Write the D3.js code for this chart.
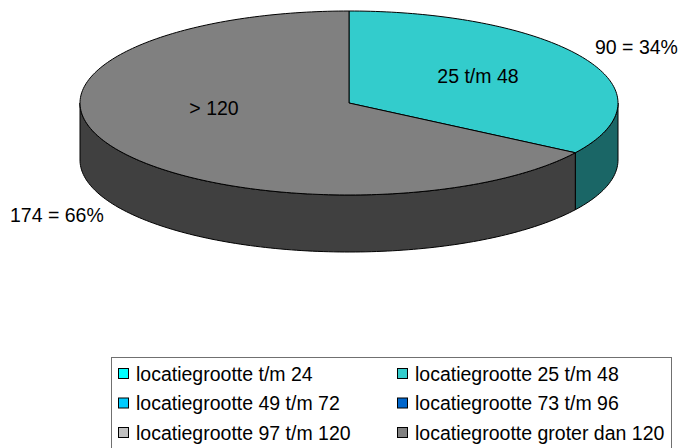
<!DOCTYPE html>
<html>
<head>
<meta charset="utf-8">
<script src="https://cdn.jsdelivr.net/npm/d3@7"></script>
<style>
  body { margin: 0; background: #fff; }
  text { font-family: "Liberation Sans", Arial, sans-serif; }
</style>
</head>
<body>
<svg id="chart" width="680" height="448"></svg>
<script>
// categories shown in the legend
const categories = [
  "locatiegrootte t/m 24",
  "locatiegrootte 25 t/m 48",
  "locatiegrootte 49 t/m 72",
  "locatiegrootte 73 t/m 96",
  "locatiegrootte 97 t/m 120",
  "locatiegrootte groter dan 120"
];
const legendColors = ["#00ffff", "#33cccc", "#00ccff", "#0066cc", "#c0c0c0", "#808080"];
const sideColors = ["#008080", "#1a6666", "#006680", "#003366", "#606060", "#404040"];

// only two slices have values
const sliceNames = ["25 t/m 48", "> 120"];
const sliceCats = [1, 5];
const sliceValues = [90, 174];
const sliceLabels = ["90 = 34%", "174 = 66%"];

const svg = d3.select("#chart");

const cx = 349, cy = 103, rx = 269, ry = 92, depth = 57;
const fs = 19.5;

// projection of an angle (0 = top, clockwise) onto the tilted ellipse
const px = a => cx + rx * Math.sin(a);
const py = a => cy - ry * Math.cos(a);

const pie = d3.pie().sort(null).value(d => d)(sliceValues);
const fillTop = d3.scaleOrdinal().domain(d3.range(6)).range(legendColors);
const fillSide = d3.scaleOrdinal().domain(d3.range(6)).range(sideColors);

function arcPts(a0, a1, dy) {
  const n = Math.max(2, Math.ceil(Math.abs(a1 - a0) / 0.02));
  return d3.range(n + 1).map(i => {
    const a = a0 + (a1 - a0) * i / n;
    return [px(a), py(a) + dy];
  });
}
const line = d3.line();

// side walls (front half only: angles between PI/2 and 3PI/2)
const g = svg.append("g");
pie.forEach((d, i) => {
  const a0 = Math.max(d.startAngle, Math.PI / 2);
  const a1 = Math.min(d.endAngle, 3 * Math.PI / 2);
  if (a1 <= a0) return;
  const pts = arcPts(a0, a1, 0).concat(arcPts(a1, a0, depth));
  g.append("path")
    .attr("d", line(pts) + "Z")
    .attr("fill", fillSide(sliceCats[i]))
    .attr("stroke", "#000")
    .attr("stroke-width", 1)
    .attr("stroke-linejoin", "round");
});

// top faces
pie.forEach((d, i) => {
  const pts = [[cx, cy]].concat(arcPts(d.startAngle, d.endAngle, 0));
  g.append("path")
    .attr("d", line(pts) + "Z")
    .attr("fill", fillTop(sliceCats[i]))
    .attr("stroke", "#000")
    .attr("stroke-width", 1)
    .attr("stroke-linejoin", "round");
});

// inner labels
const inner = [[478, 83], [214, 115]];
sliceNames.forEach((s, i) => {
  svg.append("text")
    .attr("x", inner[i][0]).attr("y", inner[i][1])
    .attr("text-anchor", "middle")
    .attr("font-size", fs)
    .text(s);
});

// outer value labels
const outer = [[595, 54], [10, 222]];
sliceLabels.forEach((s, i) => {
  svg.append("text")
    .attr("x", outer[i][0]).attr("y", outer[i][1])
    .attr("font-size", fs)
    .text(s);
});

// legend
const leg = svg.append("g").attr("transform", "translate(111,357)");
leg.append("rect")
  .attr("x", 0.5).attr("y", 0.5)
  .attr("width", 560).attr("height", 100)
  .attr("fill", "#fff")
  .attr("stroke", "#707070")
  .attr("stroke-width", 1);

const item = leg.selectAll("g.item")
  .data(categories)
  .enter().append("g")
  .attr("class", "item")
  .attr("transform", (d, i) => `translate(${7 + (i % 2) * 279},${11 + Math.floor(i / 2) * 29.5})`);

item.append("rect")
  .attr("x", 0.5).attr("y", 0.5)
  .attr("width", 10).attr("height", 10)
  .attr("fill", (d, i) => legendColors[i])
  .attr("stroke", "#000")
  .attr("stroke-width", 1);

item.append("text")
  .attr("x", 18).attr("y", 12.5)
  .attr("font-size", fs)
  .text(d => d);
</script>
</body>
</html>
